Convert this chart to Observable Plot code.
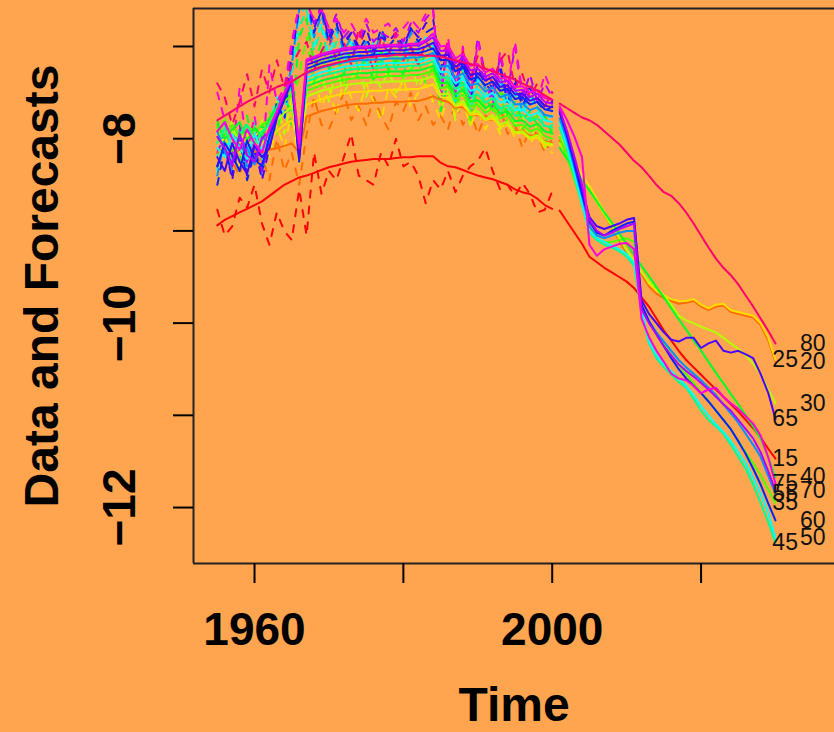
<!DOCTYPE html>
<html><head><meta charset="utf-8">
<script src="https://cdn.jsdelivr.net/npm/d3@7"></script>
<script src="https://cdn.jsdelivr.net/npm/@observablehq/plot@0.6"></script>
<style>
html,body{margin:0;padding:0;background:#FFA54F;}
#chart{width:834px;height:732px;overflow:hidden;}
</style></head><body><div id="chart"></div>
<script>
const ages = [15,20,25,30,35,40,45,50,55,60,65,70,75,80];
const colors = ["#FF0000","#FF6D00","#FFDB00","#B6FF00","#49FF00","#00FF24","#00FF92","#00FFFF","#0092FF","#0024FF","#4900FF","#B600FF","#FF00DB","#FF006D"];
const xTicks = [1960,1980,2000,2020];
const xTickLabels = ["1960","","2000",""];
const yTicks = [-12,-11,-10,-9,-8,-7];
const yTickLabels = ["\u221212","","\u221210","","\u22128",""];
const dataYears = d3.range(1955, 2001);
const forecastYears = d3.range(2001, 2031);

// fitted (solid) series, 1955-2000
const fit15 = [-8.94,-8.88,-8.84,-8.80,-8.76,-8.72,-8.68,-8.62,-8.56,-8.50,-8.46,-8.42,
 -8.40,-8.37,-8.34,-8.31,-8.29,-8.27,-8.25,-8.24,-8.23,-8.22,-8.22,-8.22,-8.21,-8.20,-8.20,-8.19,-8.19,-8.19,
 -8.26,-8.30,-8.31,-8.34,-8.37,-8.40,-8.42,-8.44,-8.47,-8.50,-8.55,-8.58,-8.60,-8.65,-8.72,-8.76];
const fit20 = [-8.15,-8.10,-8.18,-8.12,-8.16,-8.14,-8.15,-8.12,-8.10,-8.08,-8.05,-8.15,
 -7.76,-7.73,-7.70,-7.68,-7.66,-7.64,-7.63,-7.62,-7.62,-7.61,-7.61,-7.60,-7.60,-7.60,-7.59,-7.59,-7.57,-7.54,
 -7.58,-7.60,-7.66,-7.66,-7.74,-7.74,-7.80,-7.79,-7.86,-7.84,-7.92,-7.91,-7.97,-7.96,-8.03,-8.05];
const fit25 = [-8.05,-8.00,-8.08,-8.04,-8.06,-8.02,-8.05,-8.00,-7.92,-7.85,-7.80,-8.05,
 -7.63,-7.60,-7.57,-7.55,-7.53,-7.51,-7.50,-7.49,-7.49,-7.48,-7.48,-7.47,-7.47,-7.47,-7.46,-7.46,-7.44,-7.41,
 -7.55,-7.56,-7.65,-7.63,-7.74,-7.73,-7.80,-7.78,-7.87,-7.85,-7.94,-7.94,-8.00,-7.99,-8.06,-8.08];
const fit30 = [-7.95,-7.98,-7.92,-8.00,-7.95,-7.97,-7.90,-7.88,-7.80,-7.72,-7.65,-8.00,
 -7.54,-7.51,-7.48,-7.46,-7.44,-7.42,-7.41,-7.40,-7.40,-7.39,-7.39,-7.38,-7.38,-7.38,-7.37,-7.37,-7.35,-7.32,
 -7.52,-7.51,-7.64,-7.59,-7.72,-7.70,-7.79,-7.74,-7.85,-7.82,-7.93,-7.92,-7.99,-7.96,-8.04,-8.06];
const fit35 = [-7.88,-7.95,-7.85,-7.98,-7.86,-7.92,-7.85,-7.80,-7.70,-7.60,-7.52,-7.95,
 -7.48,-7.45,-7.42,-7.40,-7.38,-7.36,-7.35,-7.34,-7.34,-7.33,-7.33,-7.32,-7.32,-7.32,-7.31,-7.31,-7.29,-7.26,
 -7.45,-7.44,-7.57,-7.52,-7.65,-7.63,-7.72,-7.67,-7.78,-7.75,-7.86,-7.85,-7.92,-7.89,-7.97,-8.00];
const fit40 = [-7.85,-8.00,-7.90,-7.82,-8.02,-7.88,-7.98,-7.78,-7.65,-7.55,-7.45,-8.00,
 -7.43,-7.40,-7.37,-7.35,-7.33,-7.31,-7.30,-7.29,-7.29,-7.28,-7.28,-7.27,-7.27,-7.27,-7.26,-7.26,-7.24,-7.21,
 -7.40,-7.39,-7.52,-7.47,-7.60,-7.58,-7.67,-7.62,-7.73,-7.70,-7.81,-7.80,-7.87,-7.84,-7.92,-7.94];
const fit45 = [-8.05,-7.88,-8.10,-7.95,-7.85,-8.05,-7.92,-7.85,-7.68,-7.55,-7.42,-8.10,
 -7.38,-7.35,-7.32,-7.30,-7.28,-7.26,-7.25,-7.24,-7.24,-7.23,-7.23,-7.22,-7.22,-7.22,-7.21,-7.21,-7.19,-7.16,
 -7.34,-7.33,-7.46,-7.41,-7.54,-7.52,-7.61,-7.56,-7.67,-7.64,-7.75,-7.74,-7.81,-7.78,-7.86,-7.88];
const fit50 = [-8.10,-8.20,-7.95,-8.10,-8.22,-7.95,-8.12,-7.90,-7.70,-7.55,-7.40,-8.15,
 -7.34,-7.31,-7.28,-7.26,-7.24,-7.22,-7.21,-7.20,-7.20,-7.19,-7.19,-7.18,-7.18,-7.18,-7.17,-7.17,-7.15,-7.12,
 -7.28,-7.27,-7.40,-7.35,-7.48,-7.46,-7.55,-7.50,-7.61,-7.58,-7.69,-7.68,-7.75,-7.72,-7.80,-7.82];
const fit55 = [-7.92,-8.15,-8.25,-7.98,-8.10,-8.28,-7.98,-8.05,-7.75,-7.55,-7.38,-8.20,
 -7.29,-7.26,-7.23,-7.21,-7.19,-7.17,-7.16,-7.15,-7.15,-7.14,-7.14,-7.13,-7.13,-7.13,-7.12,-7.12,-7.10,-7.07,
 -7.22,-7.21,-7.34,-7.29,-7.42,-7.40,-7.49,-7.44,-7.55,-7.52,-7.63,-7.62,-7.69,-7.66,-7.74,-7.76];
const fit60 = [-8.30,-8.05,-8.18,-8.35,-8.02,-8.22,-8.30,-7.98,-7.75,-7.55,-7.35,-8.25,
 -7.24,-7.21,-7.18,-7.16,-7.14,-7.12,-7.11,-7.10,-7.10,-7.09,-7.09,-7.08,-7.08,-7.08,-7.07,-7.07,-7.05,-7.02,
 -7.15,-7.14,-7.27,-7.22,-7.36,-7.33,-7.42,-7.38,-7.48,-7.46,-7.57,-7.55,-7.63,-7.60,-7.68,-7.70];
const fit65 = [-8.20,-8.35,-8.05,-8.25,-8.38,-8.08,-8.20,-8.10,-7.78,-7.58,-7.38,-8.22,
 -7.20,-7.17,-7.14,-7.12,-7.10,-7.08,-7.07,-7.06,-7.06,-7.05,-7.05,-7.04,-7.04,-7.04,-7.03,-7.03,-7.00,-6.96,
 -7.10,-7.09,-7.22,-7.17,-7.31,-7.29,-7.37,-7.33,-7.44,-7.42,-7.52,-7.51,-7.59,-7.56,-7.64,-7.66];
const fit70 = [-7.98,-8.10,-8.28,-7.95,-8.18,-8.25,-8.00,-7.92,-7.72,-7.52,-7.35,-8.10,
 -7.16,-7.13,-7.10,-7.08,-7.06,-7.04,-7.03,-7.02,-7.02,-7.01,-7.01,-7.00,-7.00,-7.00,-6.99,-6.99,-6.95,-6.90,
 -7.05,-7.04,-7.18,-7.12,-7.26,-7.24,-7.33,-7.29,-7.39,-7.37,-7.48,-7.47,-7.55,-7.51,-7.60,-7.62];
const fit75 = [-7.92,-7.82,-8.00,-8.12,-7.90,-8.05,-8.15,-7.88,-7.70,-7.50,-7.32,-8.05,
 -7.14,-7.11,-7.08,-7.06,-7.04,-7.02,-7.01,-7.00,-7.00,-6.99,-6.99,-6.98,-6.98,-6.98,-6.97,-6.97,-6.93,-6.86,
 -7.00,-6.99,-7.13,-7.08,-7.21,-7.19,-7.28,-7.24,-7.35,-7.33,-7.44,-7.43,-7.50,-7.47,-7.56,-7.58];
const fit80 = [-7.80,-7.75,-7.70,-7.65,-7.60,-7.56,-7.52,-7.48,-7.44,-7.41,-7.38,-7.33,
 -7.28,-7.25,-7.22,-7.20,-7.18,-7.16,-7.14,-7.13,-7.12,-7.11,-7.10,-7.10,-7.09,-7.09,-7.09,-7.09,-7.10,-7.10,
 -7.11,-7.13,-7.15,-7.17,-7.19,-7.21,-7.24,-7.27,-7.30,-7.33,-7.36,-7.40,-7.44,-7.48,-7.53,-7.58];

// raw data (dashed) series, 1955-2000
const raw15 = [-8.77,-9.05,-8.95,-8.64,-8.75,-8.50,-8.92,-9.15,-8.80,-9.00,-9.10,-8.55,
 -9.05,-8.15,-8.60,-8.35,-8.45,-8.20,-7.95,-8.40,-8.45,-8.50,-8.15,-8.30,-8.00,-8.30,-8.25,-8.40,-8.70,-8.45,
 -8.55,-8.35,-8.58,-8.40,-8.30,-8.24,-8.10,-8.35,-8.55,-8.50,-8.62,-8.48,-8.60,-8.80,-8.77,-8.57];
const raw20 = [-8.30,-8.05,-8.25,-8.40,-8.10,-8.30,-8.20,-8.45,-8.00,-8.35,-8.15,-8.50,
 -7.95,-7.55,-7.85,-7.90,-7.70,-7.50,-7.80,-7.65,-7.85,-7.55,-7.75,-7.90,-7.60,-7.70,-7.50,-7.80,-7.65,-7.85,
 -7.75,-7.90,-7.60,-7.85,-7.70,-7.95,-7.75,-7.80,-7.65,-7.95,-7.85,-8.10,-7.90,-7.95,-8.15,-8.00];
const raw25 = [-8.20,-7.90,-8.15,-8.30,-7.95,-8.25,-8.05,-8.20,-7.85,-8.10,-7.70,-8.30,
 -7.50,-7.30,-7.65,-7.45,-7.75,-7.35,-7.55,-7.70,-7.40,-7.60,-7.80,-7.45,-7.55,-7.35,-7.65,-7.50,-7.40,-7.60,
 -7.80,-7.55,-7.75,-7.60,-7.85,-7.70,-7.90,-7.75,-7.95,-7.80,-8.00,-7.85,-8.05,-7.95,-8.10,-8.15];
const raw30 = [-7.85,-8.10,-7.80,-8.15,-7.90,-8.05,-7.80,-8.10,-7.60,-7.95,-7.55,-8.20,
 -7.20,-7.45,-7.30,-7.60,-7.25,-7.50,-7.35,-7.20,-7.55,-7.30,-7.45,-7.25,-7.50,-7.35,-7.20,-7.45,-7.30,-7.15,
 -7.70,-7.45,-7.80,-7.50,-7.85,-7.60,-7.75,-7.55,-7.90,-7.70,-7.85,-7.75,-8.00,-7.85,-8.10,-7.95];
const raw35 = [-8.05,-7.75,-8.15,-7.85,-8.20,-7.80,-8.05,-7.70,-7.95,-7.50,-7.70,-7.30,
 -6.90,-7.40,-7.10,-7.30,-7.05,-7.45,-7.20,-7.35,-7.10,-7.40,-7.15,-7.30,-7.05,-7.35,-7.25,-7.15,-7.40,-7.20,
 -7.60,-7.35,-7.70,-7.45,-7.80,-7.55,-7.65,-7.70,-7.50,-7.85,-7.65,-7.90,-7.80,-7.75,-8.05,-7.90];
const raw40 = [-7.80,-8.10,-7.90,-8.25,-7.75,-8.15,-7.85,-8.05,-7.65,-7.45,-7.85,-6.90,
 -6.70,-7.20,-6.95,-7.25,-7.05,-7.30,-7.00,-7.25,-7.15,-7.35,-7.05,-7.25,-7.15,-7.30,-7.05,-7.20,-7.10,-7.00,
 -7.70,-7.40,-7.60,-7.35,-7.75,-7.45,-7.55,-7.70,-7.40,-7.75,-7.60,-7.80,-7.70,-7.85,-7.75,-7.95];
const raw45 = [-8.20,-7.85,-8.30,-7.95,-8.15,-7.80,-8.25,-7.95,-7.60,-7.80,-7.30,-6.80,
 -6.60,-7.05,-6.80,-7.15,-6.95,-7.20,-7.00,-7.25,-7.10,-6.95,-7.20,-7.05,-7.25,-7.10,-7.00,-7.15,-7.05,-6.95,
 -7.55,-7.30,-7.65,-7.25,-7.70,-7.40,-7.60,-7.50,-7.75,-7.45,-7.70,-7.60,-7.80,-7.65,-7.90,-7.85];
const raw50 = [-8.35,-7.95,-8.20,-8.05,-8.40,-7.90,-8.25,-7.85,-7.55,-7.75,-7.25,-6.70,
 -6.55,-7.00,-6.75,-7.10,-6.85,-7.15,-6.95,-7.10,-7.20,-6.95,-7.15,-7.00,-7.10,-6.95,-7.15,-7.05,-6.90,-7.00,
 -7.45,-7.20,-7.60,-7.30,-7.65,-7.35,-7.50,-7.60,-7.40,-7.70,-7.50,-7.75,-7.55,-7.70,-7.80,-7.75];
const raw55 = [-8.40,-8.00,-8.35,-7.90,-8.30,-8.10,-8.40,-7.90,-7.70,-7.60,-7.20,-6.60,
 -6.50,-6.90,-6.65,-7.00,-6.80,-7.05,-6.90,-7.15,-6.95,-7.10,-6.85,-7.05,-6.95,-7.10,-6.85,-7.00,-6.95,-6.85,
 -7.40,-7.10,-7.55,-7.20,-7.60,-7.30,-7.45,-7.55,-7.30,-7.65,-7.45,-7.70,-7.50,-7.65,-7.75,-7.70];
const raw60 = [-8.50,-8.10,-8.40,-8.00,-8.45,-8.15,-8.35,-8.05,-7.60,-7.80,-7.10,-6.60,
 -6.45,-6.85,-6.60,-6.95,-6.75,-7.00,-6.85,-7.05,-6.90,-7.10,-6.80,-7.00,-6.90,-7.05,-6.80,-6.95,-6.85,-6.80,
 -7.30,-7.05,-7.50,-7.15,-7.55,-7.25,-7.40,-7.50,-7.25,-7.60,-7.40,-7.65,-7.45,-7.60,-7.70,-7.65];
const raw65 = [-8.30,-8.05,-8.45,-7.95,-8.40,-8.05,-8.45,-8.10,-7.70,-7.55,-7.05,-6.55,
 -6.45,-6.80,-6.60,-6.90,-6.70,-6.95,-6.85,-7.00,-6.80,-7.05,-6.90,-6.95,-6.85,-7.00,-6.80,-6.90,-6.75,-6.70,
 -7.25,-7.00,-7.45,-7.10,-7.50,-7.20,-7.35,-7.45,-7.20,-7.55,-7.35,-7.60,-7.40,-7.55,-7.65,-7.60];
const raw70 = [-8.15,-7.95,-8.30,-7.85,-8.25,-7.95,-8.35,-8.00,-7.65,-7.50,-7.00,-6.55,
 -6.50,-6.75,-6.55,-6.85,-6.65,-6.90,-6.80,-6.95,-6.75,-6.95,-6.85,-6.90,-6.80,-6.95,-6.75,-6.85,-6.70,-6.60,
 -7.55,-6.95,-7.40,-7.05,-7.50,-6.90,-7.30,-7.60,-7.10,-7.50,-7.00,-7.55,-7.30,-7.60,-7.40,-7.55];
const raw75 = [-7.50,-7.80,-8.20,-7.45,-8.15,-7.75,-8.30,-7.20,-7.60,-7.45,-6.95,-6.55,
 -6.55,-6.70,-6.60,-6.80,-6.70,-6.85,-6.75,-6.90,-6.70,-6.85,-6.80,-6.75,-6.90,-6.80,-6.70,-6.80,-6.65,-6.60,
 -7.60,-6.90,-7.50,-7.00,-7.55,-6.95,-7.35,-7.65,-7.05,-7.45,-6.95,-7.50,-7.40,-7.60,-7.30,-7.50];
const raw80 = [-7.40,-7.55,-7.85,-7.60,-7.30,-7.65,-7.25,-7.50,-7.15,-7.45,-7.20,-7.05,
 -6.95,-7.25,-7.05,-6.90,-7.15,-6.95,-7.20,-6.80,-7.05,-7.25,-6.90,-7.10,-6.85,-7.15,-7.00,-7.20,-6.95,-7.05,
 -7.15,-6.95,-7.30,-7.05,-7.35,-7.10,-7.25,-7.40,-7.15,-7.05,-7.45,-7.30,-7.55,-7.40,-7.65,-7.50];

// forecasts (solid), 2001-2030
const fc15 = [-8.78,-8.90,-9.02,-9.14,-9.28,-9.34,-9.40,-9.45,-9.50,-9.55,-9.62,-9.72,-9.82,-9.95,-10.08,-10.19,-10.30,-10.40,-10.48,-10.56,-10.64,-10.72,-10.80,-10.88,-10.96,-11.05,-11.14,-11.24,-11.36,-11.47];
const fc20 = [-8.02,-8.15,-8.28,-8.42,-8.55,-8.68,-8.82,-8.96,-9.10,-9.24,-9.36,-9.47,-9.60,-9.68,-9.73,-9.76,-9.79,-9.78,-9.76,-9.82,-9.86,-9.82,-9.81,-9.88,-9.90,-9.92,-9.94,-10.02,-10.18,-10.42];
const fc25 = [-7.97,-8.12,-8.25,-8.39,-8.52,-8.65,-8.79,-8.93,-9.07,-9.21,-9.33,-9.44,-9.57,-9.65,-9.70,-9.74,-9.76,-9.76,-9.74,-9.80,-9.84,-9.80,-9.79,-9.86,-9.88,-9.90,-9.92,-10.00,-10.15,-10.40];
const fc30 = [-8.05,-8.17,-8.30,-8.43,-8.56,-8.69,-8.82,-8.95,-9.08,-9.21,-9.33,-9.45,-9.55,-9.62,-9.70,-9.80,-9.92,-9.97,-10.00,-10.04,-10.07,-10.10,-10.16,-10.22,-10.28,-10.35,-10.44,-10.55,-10.72,-10.87];
const fc35 = [-7.98,-8.20,-8.45,-8.70,-8.98,-9.08,-9.12,-9.12,-9.10,-9.08,-9.12,-9.80,-9.98,-10.10,-10.22,-10.35,-10.45,-10.55,-10.65,-10.75,-10.85,-10.95,-11.05,-11.15,-11.28,-11.40,-11.52,-11.65,-11.80,-11.95];
const fc40 = [-8.10,-8.22,-8.33,-8.45,-8.56,-8.68,-8.80,-8.91,-9.03,-9.14,-9.26,-9.38,-9.49,-9.61,-9.72,-9.84,-9.96,-10.07,-10.19,-10.30,-10.42,-10.54,-10.65,-10.77,-10.88,-11.00,-11.12,-11.25,-11.45,-11.67];
const fc45 = [-7.88,-8.12,-8.42,-8.72,-9.02,-9.10,-9.15,-9.18,-9.22,-9.28,-9.38,-9.88,-10.22,-10.38,-10.48,-10.56,-10.64,-10.70,-10.82,-10.95,-11.05,-11.12,-11.20,-11.32,-11.45,-11.58,-11.75,-11.95,-12.15,-12.38];
const fc50 = [-7.82,-8.08,-8.38,-8.70,-9.00,-9.08,-9.12,-9.16,-9.20,-9.25,-9.35,-9.85,-10.20,-10.35,-10.45,-10.52,-10.60,-10.68,-10.78,-10.90,-11.00,-11.10,-11.18,-11.28,-11.40,-11.52,-11.68,-11.85,-12.05,-12.33];
const fc55 = [-7.78,-8.02,-8.32,-8.62,-8.95,-9.05,-9.08,-9.05,-9.02,-9.00,-9.00,-9.82,-9.98,-10.10,-10.20,-10.30,-10.40,-10.48,-10.55,-10.62,-10.70,-10.78,-10.88,-10.98,-11.08,-11.20,-11.32,-11.45,-11.65,-11.85];
const fc60 = [-7.72,-7.97,-8.28,-8.60,-8.90,-9.02,-9.05,-9.00,-8.96,-8.92,-8.90,-9.80,-9.98,-10.12,-10.25,-10.38,-10.50,-10.60,-10.68,-10.76,-10.85,-10.95,-11.05,-11.15,-11.28,-11.42,-11.58,-11.75,-11.95,-12.14];
const fc65 = [-7.70,-7.95,-8.25,-8.55,-8.85,-8.95,-8.98,-8.95,-8.92,-8.88,-8.86,-9.75,-9.90,-10.00,-10.10,-10.18,-10.20,-10.16,-10.16,-10.27,-10.22,-10.19,-10.30,-10.32,-10.30,-10.34,-10.38,-10.55,-10.75,-11.04];
const fc70 = [-7.68,-7.92,-8.20,-8.50,-8.88,-9.00,-9.05,-9.02,-8.98,-8.95,-8.92,-9.85,-10.00,-10.12,-10.25,-10.35,-10.45,-10.52,-10.58,-10.65,-10.72,-10.80,-10.88,-10.95,-11.05,-11.15,-11.25,-11.40,-11.60,-11.82];
const fc75 = [-7.65,-7.80,-7.98,-8.20,-9.15,-9.27,-9.20,-9.17,-9.14,-9.13,-9.20,-9.95,-10.15,-10.30,-10.42,-10.55,-10.60,-10.62,-10.68,-10.76,-10.72,-10.70,-10.80,-10.87,-10.93,-11.01,-11.09,-11.22,-11.45,-11.74];
const fc80 = [-7.62,-7.67,-7.72,-7.77,-7.80,-7.85,-7.92,-7.99,-8.06,-8.15,-8.24,-8.31,-8.40,-8.50,-8.58,-8.62,-8.70,-8.80,-8.92,-9.05,-9.18,-9.30,-9.40,-9.48,-9.58,-9.70,-9.82,-9.95,-10.08,-10.22];

const fitSeries = [fit15,fit20,fit25,fit30,fit35,fit40,fit45,fit50,fit55,fit60,fit65,fit70,fit75,fit80];
const rawSeries = [raw15,raw20,raw25,raw30,raw35,raw40,raw45,raw50,raw55,raw60,raw65,raw70,raw75,raw80];
const fcSeries  = [fc15,fc20,fc25,fc30,fc35,fc40,fc45,fc50,fc55,fc60,fc65,fc70,fc75,fc80];

const toRows = (series, years) => ages.flatMap((a, i) => years.map((yr, j) => ({age: a, year: yr, value: series[i][j]})));
const fitRows = toRows(fitSeries, dataYears);
const rawRows = toRows(rawSeries, dataYears);
const fcRows = toRows(fcSeries, forecastYears);
const endRows = ages.map((a, i) => ({age: a, label: String(a), value: fcSeries[i][fcSeries[i].length - 1], col: i % 2}));
const yLabelRows = yTicks.map((v, i) => ({v, t: yTickLabels[i]})).filter(d => d.t);

const xDomain = [1951.8, 2037.93];
const yDomain = [-12.607, -6.588];
const font = "'Liberation Sans', Arial, Helvetica, sans-serif";

const chart = Plot.plot({
  width: 834, height: 732,
  marginLeft: 193, marginRight: 0, marginTop: 8, marginBottom: 169,
  style: {background: "#FFA54F", fontFamily: font, color: "black", overflow: "hidden"},
  x: {domain: xDomain, axis: null},
  y: {domain: yDomain, axis: null},
  color: {type: "ordinal", domain: ages, range: colors},
  marks: [
    Plot.line(rawRows, {x: "year", y: "value", z: "age", stroke: "age", strokeWidth: 2, strokeDasharray: "7,9", clip: true}),
    Plot.line(fitRows, {x: "year", y: "value", z: "age", stroke: "age", strokeWidth: 2, clip: true}),
    Plot.line(fcRows, {x: "year", y: "value", z: "age", stroke: "age", strokeWidth: 2, clip: true}),
    Plot.text(endRows, {x: d => d.col ? 2035.0 : 2031.3, y: "value", text: "label", fontSize: 23, fill: "#111", fontFamily: font}),
    Plot.ruleX([xDomain[0]], {stroke: "#222", strokeWidth: 2}),
    Plot.ruleY(yDomain, {stroke: "#222", strokeWidth: 2}),
    Plot.axisX(xTicks, {anchor: "bottom", label: null, tickSize: 20, tickPadding: 29, tickFormat: d => xTickLabels[xTicks.indexOf(d)], fontSize: 46, fontWeight: "bold", strokeWidth: 2}),
    Plot.axisY(yTicks, {anchor: "left", label: null, tickSize: 20, tickFormat: () => null, strokeWidth: 2}),
    Plot.text(yLabelRows, {y: "v", text: "t", frameAnchor: "left", dx: -73, rotate: -90, fontSize: 46, fontWeight: "bold", textAnchor: "middle", lineAnchor: "middle"}),
    Plot.text(["Data and Forecasts"], {frameAnchor: "left", dx: -151, rotate: -90, fontSize: 48, fontWeight: "bold", textAnchor: "middle", lineAnchor: "middle"}),
    Plot.text(["Time"], {frameAnchor: "bottom", dy: 142, fontSize: 48, fontWeight: "bold", textAnchor: "middle", lineAnchor: "middle"})
  ]
});
document.getElementById("chart").appendChild(chart);
</script>
</body></html>
